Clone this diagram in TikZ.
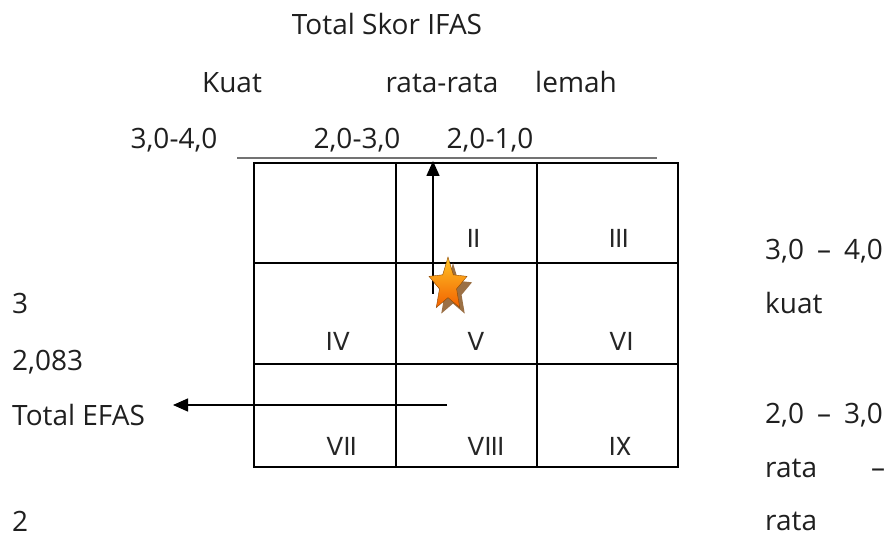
\documentclass[tikz,border=0pt]{standalone}
\usepackage{fontspec}
\setmainfont{Open Sans}
\newfontfamily\romanfont{Poppins}
\usetikzlibrary{arrows.meta}
\begin{document}
\begin{tikzpicture}[x=1pt,y=-1pt,
  txt/.style={inner sep=0pt,anchor=base,font=\fontsize{28}{32}\selectfont,text=black!88},
  lbl/.style={txt,anchor=base west},
  cell/.style={inner sep=0pt,anchor=base west,font=\romanfont\fontsize{26}{30}\selectfont,text=black!85},
  gridline/.style={line width=1.3pt},
  arr/.style={line width=1.3pt,-{Triangle[length=15pt,width=13pt]}}]
\useasboundingbox (0,0) rectangle (894,537);
% headings
\node[txt] (title) at (387,35) {Total Skor IFAS};
\node[txt] (kuat) at (232,93) {Kuat};
\node[txt] (rata) at (442,93) {rata-rata};
\node[txt] (lemah) at (576,93) {lemah};
\node[txt] (r1) at (174,149) {3,0-4,0};
\node[txt] (r2) at (357,149) {2,0-3,0};
\node[txt] (r3) at (490,149) {2,0-1,0};
% axis line above the matrix
\draw[line width=1.4pt,black!55] (237,158) coordinate (axL) -- (657,158) coordinate (axR);
% matrix
\draw[gridline] (254,163) rectangle (678,467);
\draw[gridline] (396,163) -- (396,467) (537,163) -- (537,467)
  (254,263) -- (678,263) (254,364) -- (678,364);
\node[cell] (c2) at (467,248) {II};
\node[cell] (c3) at (609,248) {III};
\node[cell] (c4) at (326,350) {IV};
\node[cell] (c5) at (467,350) {V};
\node[cell] (c6) at (609,350) {VI};
\node[cell] (c7) at (326,455) {VII};
\node[cell] (c8) at (467,455) {VIII};
\node[cell] (c9) at (609,455) {IX};
% left side labels
\node[lbl] (s3) at (12,313) {3};
\node[lbl] (s2083) at (12,370) {2,083};
\node[lbl] (efas) at (12,425) {Total EFAS};
\node[lbl] (s2) at (12,531) {2};
% right side labels
\node[lbl] (k1) at (765,260) {3,0\hspace{13pt}–\hspace{13pt}4,0};
\node[lbl] (k2) at (765,313) {kuat};
\node[lbl] (k3) at (765,423) {2,0\hspace{13pt}–\hspace{13pt}3,0};
\node[lbl] (k4) at (765,477) {rata};
\node[txt] (k4d) at (878,477) {–};
\node[lbl] (k5) at (765,530) {rata};
% arrows
\coordinate (vstart) at (433,294);
\coordinate (vend) at (433,161);
\draw[arr,line width=1.6pt] (vstart) -- (vend);
\coordinate (hstart) at (447,405);
\coordinate (hend) at (173,405);
\draw[arr] (hstart) -- (hend);
% position marker: a tall five-pointed star with a drop shadow
\def\starpath{(90:1) -- (126:0.45) -- (162:1) -- (198:0.45) -- (234:1) -- (270:0.45)
  -- (306:1) -- (342:0.45) -- (18:1) -- (54:0.45) -- cycle}
\begin{scope}[shift={(453,291)},x=20pt,y=28pt]
  \fill[brown!75!black!90] \starpath;
\end{scope}
\begin{scope}[shift={(448,285)},x=20pt,y=28pt]
  \shade[top color=orange!55!yellow!85!white,bottom color=orange!80!red!95!black,
    draw=orange!55!black,line width=0.4pt] \starpath;
\end{scope}
\node[inner sep=0pt,minimum size=0pt] (mark) at (448,285) {};
\end{tikzpicture}
\end{document}
